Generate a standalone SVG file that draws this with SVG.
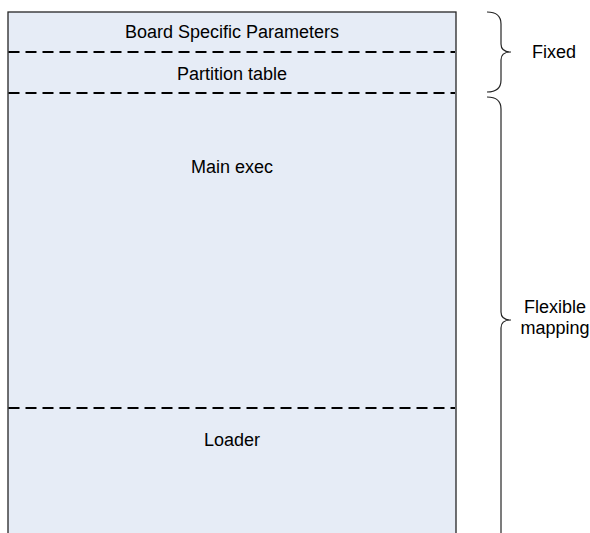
<svg xmlns="http://www.w3.org/2000/svg" width="590" height="533" viewBox="0 0 590 533">
<style>
.box{fill:#E6ECF6;stroke:#262626;stroke-width:1.3}
.div{stroke:#000;stroke-width:1.8;stroke-dasharray:11 6;fill:none}
.brace{fill:none;stroke:#262626;stroke-width:1.2}
text{font-family:"Liberation Sans",Arial,sans-serif;font-size:18px;fill:#000}
.c{text-anchor:middle}
</style>
<rect width="590" height="533" fill="#fff"/>
<g id="memory">
<rect class="box" x="8" y="12" width="448" height="530"/>
</g>
<g id="connectors">
<line class="div" x1="8.5" y1="52" x2="455" y2="52"/>
<line class="div" x1="8.5" y1="93" x2="455" y2="93"/>
<line class="div" x1="8.5" y1="408" x2="455" y2="408"/>
</g>
<g id="board"><text class="c" x="232" y="38">Board Specific Parameters</text></g>
<g id="partition"><text class="c" x="232" y="80">Partition table</text></g>
<g id="mainexec"><text class="c" x="232" y="173">Main exec</text></g>
<g id="loader"><text class="c" x="232" y="446">Loader</text></g>
<g id="fixed">
<path class="brace" d="M487,12 Q501,12 501,24 L501,44 Q501,52 511,52 Q501,52 501,60 L501,80 Q501,92 487,92"/>
<text class="c" x="554" y="58">Fixed</text>
</g>
<g id="flexible">
<path class="brace" d="M487,97 Q501,97 501,109 L501,312 Q501,320 511,320 Q501,320 501,328 L501,540"/>
<text class="c" x="555" y="313">Flexible</text>
<text class="c" x="555" y="334">mapping</text>
</g>
</svg>
